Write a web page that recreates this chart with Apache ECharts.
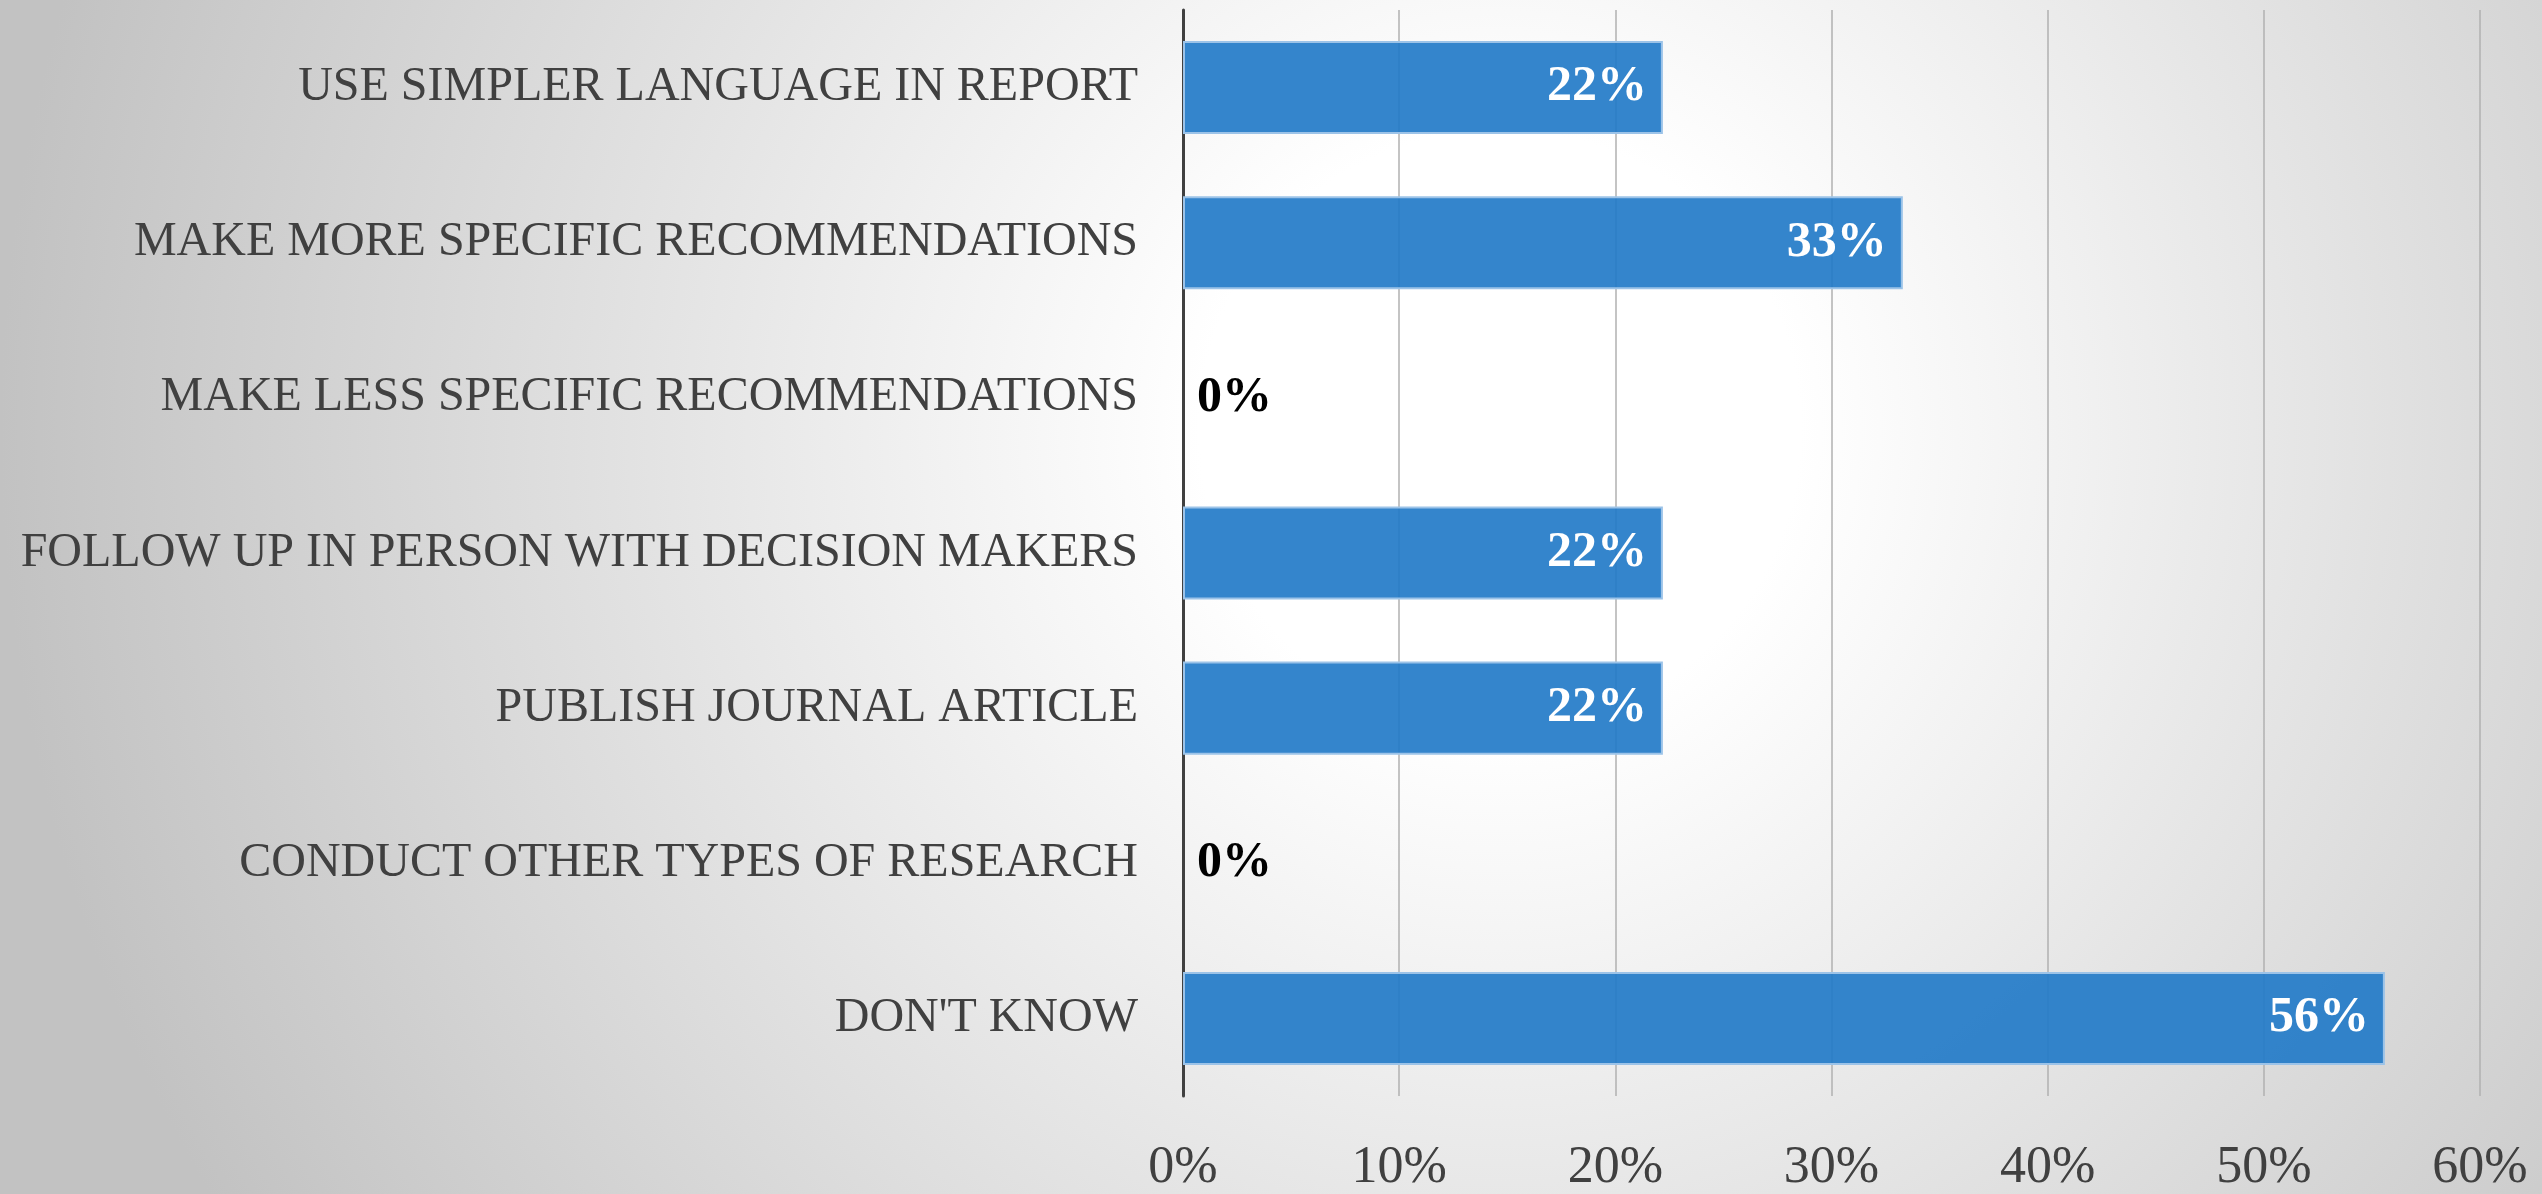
<!DOCTYPE html>
<html>
<head>
<meta charset="utf-8">
<script src="https://cdn.jsdelivr.net/npm/echarts@6/dist/echarts.min.js"></script>
<style>
    html, body { margin: 0; padding: 0; }
    #chart {
        width: 2542px; height: 1194px;
        background: radial-gradient(circle 1500px at 1500px 430px, #ffffff 0%, #ffffff 20%, #c2c2c2 100%);
    }
</style>
</head>
<body>
<div id="chart"></div>
<script>
// 数据
const categories = [
    'USE SIMPLER LANGUAGE IN REPORT',
    'MAKE MORE SPECIFIC RECOMMENDATIONS',
    'MAKE LESS SPECIFIC RECOMMENDATIONS',
    'FOLLOW UP IN PERSON WITH DECISION MAKERS',
    'PUBLISH JOURNAL ARTICLE',
    'CONDUCT OTHER TYPES OF RESEARCH',
    "DON'T KNOW"
];
const values = [22.2, 33.3, 0, 22.2, 22.2, 0, 55.6];
const tickLabels = ['0%', '10%', '20%', '30%', '40%', '50%', '60%'];

const font = '"Liberation Serif", "DejaVu Serif", serif';

// 0% 的标签放在轴线右边，黑色
const barData = values.map(v => {
    if (v === 0) {
        return {
            value: v,
            itemStyle: { borderWidth: 0 },
            label: { position: 'right', distance: 14, color: '#000' }
        };
    }
    return { value: v };
});

const option = {
    animation: false,
    grid: { left: 1183, right: 62, top: 10, bottom: 97, containLabel: false },
    xAxis: {
        type: 'value',
        min: 0,
        max: 60,
        interval: 10,
        axisLine: { show: false },
        axisTick: { show: false },
        splitLine: { show: true, lineStyle: { color: '#b0b0b0', width: 1.5 } },
        axisLabel: {
            margin: 46,
            fontFamily: font,
            fontSize: 52,
            color: '#404040',
            formatter: function (v) { return tickLabels[Math.round(v / 10)]; }
        }
    },
    yAxis: {
        type: 'category',
        inverse: true,
        data: categories,
        axisLine: { show: true, lineStyle: { color: '#404040', width: 3 } },
        axisTick: { show: false },
        axisLabel: {
            margin: 45,
            fontFamily: font,
            fontSize: 48,
            color: '#404040'
        }
    },
    series: [
        {
            type: 'bar',
            data: barData,
            barCategoryGap: '40%',
            itemStyle: {
                color: 'rgba(35,123,200,0.92)',
                borderColor: '#9cc3e8',
                borderWidth: 2
            },
            label: {
                show: true,
                position: 'insideRight',
                distance: 16,
                fontFamily: font,
                fontWeight: 'bold',
                fontSize: 50,
                color: '#fff',
                formatter: function (p) { return Math.round(p.value) + '%'; }
            }
        }
    ]
};

var myChart = echarts.init(document.getElementById('chart'), null, { renderer: 'canvas' });
myChart.setOption(option);
</script>
</body>
</html>
